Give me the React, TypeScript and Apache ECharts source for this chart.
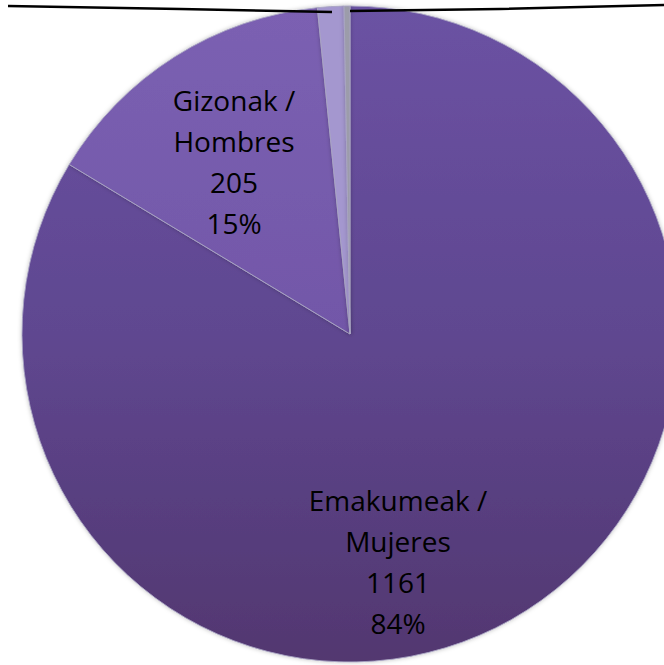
import React, { useEffect, useRef } from "react";
import * as echarts from "echarts";

const categories = ["Emakumeak / Mujeres", "Gizonak / Hombres", "Beste 1", "Beste 2"];
const values = [1161, 205, 18, 4];
const showLabel = [true, true, false, false];

export default function App() {
  const ref = useRef<HTMLDivElement>(null);
  useEffect(() => {
    if (!ref.current) return;
    const chart = echarts.init(ref.current, undefined, { renderer: "svg" });
    const colors = [
      new echarts.graphic.LinearGradient(0, 0, 0, 1, [
        { offset: 0, color: "#6b52a3" },
        { offset: 0.5, color: "#5f4790" },
        { offset: 1, color: "#523770" },
      ]),
      new echarts.graphic.LinearGradient(0, 0, 0, 1, [
        { offset: 0, color: "#7b60b2" },
        { offset: 1, color: "#7257a8" },
      ]),
      "#a497cf",
      "#9c9caa",
    ];
    const labelPos = [
      { x: 398, y: 561 },
      { x: 234, y: 161 },
      { x: 0, y: 0 },
      { x: 0, y: 0 },
    ];
    chart.setOption({
      animation: false,
      backgroundColor: "#ffffff",
      series: [
        {
          type: "pie",
          center: [350, 334],
          radius: [0, 328],
          startAngle: 90,
          clockwise: true,
          percentPrecision: 0,
          avoidLabelOverlap: false,
          itemStyle: {
            borderColor: "rgba(170,165,195,0.9)",
            borderWidth: 1,
            shadowBlur: 4,
            shadowColor: "rgba(0,0,0,0.25)",
          },
          label: {
            show: true,
            position: "inside",
            color: "#000000",
            fontFamily: "Open Sans",
            fontSize: 28,
            lineHeight: 41,
            align: "center",
            verticalAlign: "middle",
            formatter: (p: any) =>
              `${p.name.replace(" / ", " /\n")}\n${p.value}\n${p.percent}%`,
          },
          labelLine: { show: false },
          labelLayout: (p: any) => labelPos[p.dataIndex],
          data: categories.map((c, i) => ({
            name: c,
            value: values[i],
            itemStyle: { color: colors[i] },
            label: { show: showLabel[i] },
          })),
        },
      ],
      graphic: [
        {
          type: "polyline",
          shape: { points: [[8, 6], [180, 9], [332, 12]] },
          style: { stroke: "#000000", lineWidth: 2.5, fill: "none" },
          z: 100,
        },
        {
          type: "polyline",
          shape: { points: [[350, 11], [500, 9], [664, 5]] },
          style: { stroke: "#000000", lineWidth: 2.5, fill: "none" },
          z: 100,
        },
      ],
    });
    return () => chart.dispose();
  }, []);
  return (
    <div
      ref={ref}
      style={{ position: "absolute", left: 0, top: 0, width: 664, height: 665 }}
    />
  );
}
